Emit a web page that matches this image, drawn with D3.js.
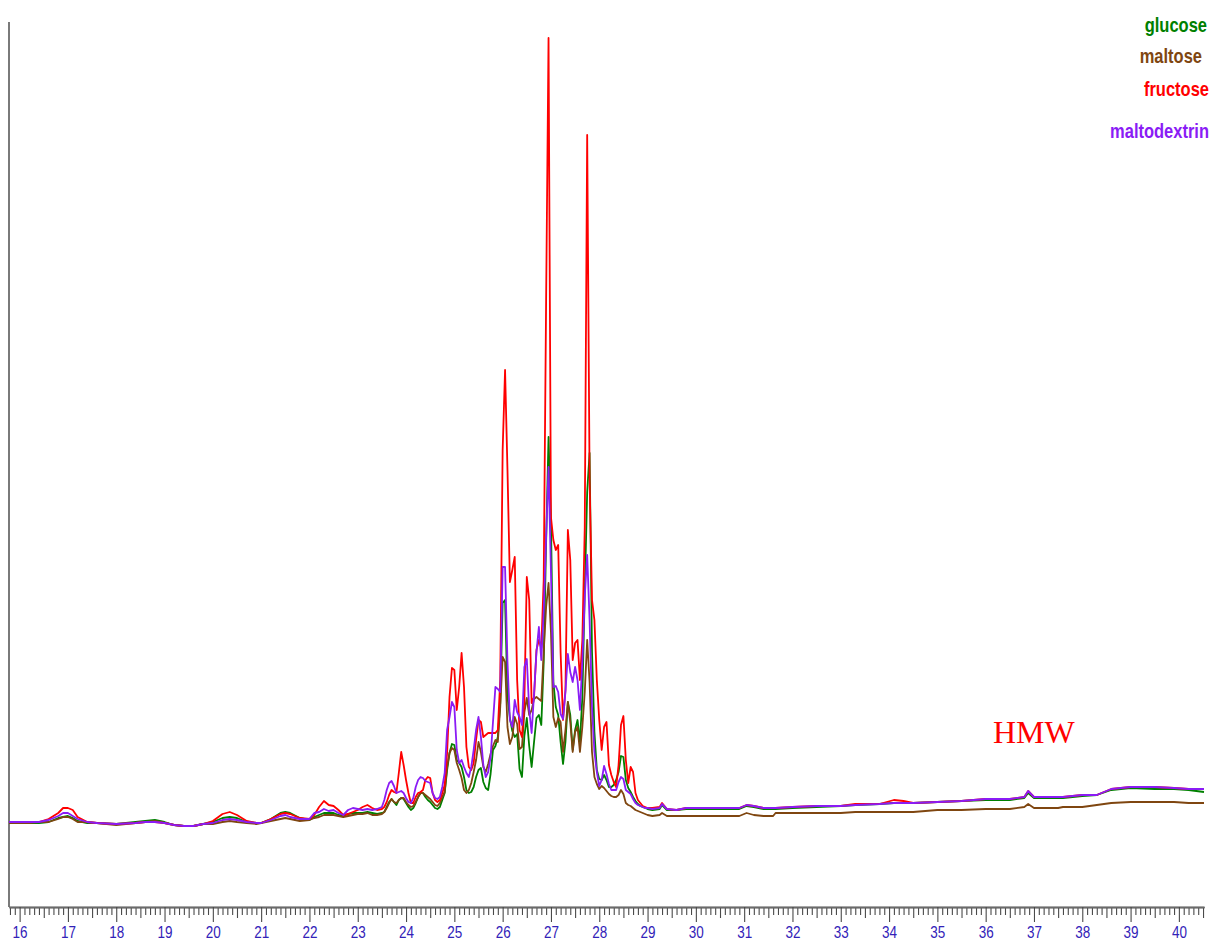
<!DOCTYPE html>
<html>
<head>
<meta charset="utf-8">
<script src="https://cdn.jsdelivr.net/npm/d3@7"></script>
<style>
html, body { margin: 0; padding: 0; background: #ffffff; }
svg { display: block; }
</style>
</head>
<body>
<svg id="chart" width="1212" height="943"></svg>
<script>
// Retention time (min)
const times = [15.78,16.0,16.2,16.4,16.6,16.8,16.9,17.0,17.1,17.2,17.4,17.6,18.0,18.4,18.6,18.8,19.0,19.2,19.4,19.6,19.8,20.0,20.2,20.35,20.5,20.7,20.9,21.0,21.2,21.4,21.5,21.6,21.8,22.0,22.1,22.2,22.3,22.4,22.5,22.6,22.7,22.8,22.9,23.0,23.1,23.2,23.3,23.4,23.5,
23.55,23.6,23.65,23.7,23.75,23.8,23.85,23.9,23.95,24.0,
24.05,24.1,24.15,24.2,24.25,24.3,24.35,24.4,24.45,24.5,
24.55,24.6,24.65,24.7,24.75,24.8,24.85,24.9,24.95,25.0,
25.05,25.1,25.15,25.2,25.25,25.3,25.35,25.4,25.45,25.5,
25.55,25.6,25.65,25.7,25.75,25.8,25.85,25.9,25.95,26.0,
26.05,26.1,26.15,26.2,26.25,26.3,26.35,26.4,26.45,26.5,
26.55,26.6,26.65,26.7,26.75,26.8,26.85,26.9,26.95,27.0,
27.05,27.1,27.15,27.2,27.25,27.3,27.35,27.4,27.45,27.5,
27.55,27.6,27.65,27.7,27.75,27.8,27.85,27.9,27.95,28.0,
28.05,28.1,28.15,28.2,28.25,28.3,28.35,28.4,28.45,28.5,
28.55,28.6,28.65,28.7,28.75,28.8,28.85,28.9,28.95,29.0,
29.1,29.25,29.3,29.4,29.6,29.8,30.5,30.9,31.05,31.2,31.4,31.6,31.65,32.0,32.5,33.0,33.3,33.8,34.1,34.3,34.5,35.0,35.5,36.0,36.5,36.8,36.88,37.0,37.5,37.6,38.0,38.3,38.6,39.0,39.5,39.9,40.2,40.52];

// Detector signal for each sample
const glucose = [-1,-1,-1,-1,0,4,5,6,4,1,-1,-1,-2,0,1,2,0,-3,-4,-4,-2,0,4,5,4,0,-1,-1,3,9,10,9,4,2,5,7,9,9,9,7,6,8,9,9,9,10,9,8,9,
10,15,20,23,20,17,22,24,23,19,
15,12,14,19,25,29,29,25,22,20,
17,14,13,15,22,29,52,69,78,77,
62,59,55,45,32,29,30,35,45,52,
54,40,34,32,48,72,76,85,119,219,
222,125,104,91,85,88,53,45,86,104,
76,55,80,104,107,97,160,280,385,300,
140,115,107,80,58,80,120,107,72,92,
102,80,125,230,330,369,170,90,52,43,
42,47,42,35,35,37,42,50,66,65,
42,34,30,25,21,18,16,15,14,13,
12,13,17,12,12,13,13,13,16,15,13,13,13,14,15,16,17,18,19,19,19,20,21,22,22,24,29,24,24,24,26,27,32,34,33,33,32,30];

const maltose = [-1,-1,-1,0,0,3,5,5,3,0,0,-1,-3,-1,0,1,-1,-3,-4,-4,-2,-2,0,1,0,-1,-2,-1,1,3,4,3,1,2,4,5,7,7,7,6,5,6,7,8,8,9,7,7,8,
10,14,19,23,20,19,22,24,24,20,
17,15,16,20,25,29,29,27,25,23,
20,17,16,19,25,30,55,69,74,72,
59,52,44,32,29,32,39,50,62,80,
70,55,50,58,68,76,82,80,115,165,
160,95,78,85,105,98,73,75,110,124,
107,112,123,125,123,121,170,215,239,190,
105,95,104,100,70,92,120,100,70,90,
95,70,95,130,182,140,70,45,38,33,
36,34,31,28,26,25,25,27,32,28,
19,17,16,14,12,11,10,9,8,7,
6,7,9,6,6,6,6,6,9,7,6,6,9,9,9,9,10,10,10,10,10,12,12,13,13,15,18,14,14,15,15,17,19,20,20,20,19,19];

const fructose = [0,0,0,0,3,9,14,14,12,5,0,-1,-2,-1,0,0,-1,-3,-4,-4,-2,1,8,10,7,1,-1,-1,3,8,9,8,4,3,7,15,21,17,16,12,7,8,10,12,15,17,14,12,13,
15,20,27,32,30,29,49,70,57,42,
29,19,19,25,29,30,32,42,45,44,
29,22,20,22,29,37,69,125,154,152,
112,135,169,135,75,55,52,59,82,102,
100,85,87,89,89,89,89,92,142,372,
452,352,240,252,265,142,92,85,122,245,
222,119,125,172,182,174,242,522,784,305,
282,272,277,169,102,132,292,262,162,179,
182,142,182,295,687,342,222,202,142,102,
72,95,100,57,47,40,35,57,97,106,
62,39,55,50,29,22,19,16,15,14,
14,15,19,13,12,14,14,14,17,16,14,14,14,15,16,16,18,18,22,21,19,20,21,23,23,25,31,25,25,25,27,27,33,35,35,34,33,33];

const maltodextrin = [0,0,0,0,2,6,9,9,6,3,0,-1,-2,-1,0,0,-1,-3,-4,-4,-2,-1,2,3,2,0,-1,-1,2,6,7,5,3,3,9,10,13,11,12,9,7,12,14,13,12,13,12,13,15,
22,32,39,41,36,29,30,31,29,24,
20,19,24,35,42,45,44,41,40,39,
29,24,23,25,35,49,92,105,120,115,
72,59,62,55,49,45,55,72,92,105,
85,57,45,50,65,100,135,133,130,255,
255,160,102,95,122,110,105,97,155,163,
112,89,128,170,195,162,210,285,355,250,
135,136,130,108,103,130,168,150,140,155,
142,112,160,225,267,202,115,70,50,36,
42,56,48,38,32,32,32,40,45,43,
32,30,28,23,19,17,16,15,14,14,
13,14,18,13,12,14,14,14,17,16,14,14,14,15,16,16,17,18,19,19,19,20,21,23,23,25,31,25,25,25,27,27,33,35,35,34,33,33];

const seriesNames = ["glucose", "maltose", "fructose", "maltodextrin"];
const seriesColors = ["#008000", "#7f4610", "#ff0000", "#8a1cf5"];
const tickLabels = [16,17,18,19,20,21,22,23,24,25,26,27,28,29,30,31,32,33,34,35,36,37,38,39,40];
const annotationText = "HMW";
const annotationPos = [36.15, 79];

const seriesData = [glucose, maltose, fructose, maltodextrin];

const svg = d3.select("#chart");
const x = d3.scaleLinear().domain([15.78, 40.52]).range([9, 1204]);
const y = d3.scaleLinear().domain([-85, 807]).range([907, 15]);

// vertical axis line
svg.append("line")
  .attr("x1", x(15.78)).attr("x2", x(15.78))
  .attr("y1", y(800)).attr("y2", y(-85))
  .attr("stroke", "#7a7a7a").attr("stroke-width", 2);

// minor ticks (0.1 min)
const minor = d3.range(158, 406).map(i => i / 10).filter(v => Math.round(v * 10) % 5 !== 0);
const half = d3.range(158, 406).map(i => i / 10).filter(v => Math.round(v * 10) % 10 === 5);

const gMinor = svg.append("g").attr("transform", `translate(0,${y(-85)})`)
  .call(d3.axisBottom(x).tickValues(minor).tickSize(8).tickFormat("").tickSizeOuter(0));
const gHalf = svg.append("g").attr("transform", `translate(0,${y(-85)})`)
  .call(d3.axisBottom(x).tickValues(half).tickSize(11).tickFormat("").tickSizeOuter(0));
const gMajor = svg.append("g").attr("transform", `translate(0,${y(-85)})`)
  .call(d3.axisBottom(x).tickValues(tickLabels).tickSize(15).tickFormat(d3.format("d")).tickSizeOuter(0));

[gMinor, gHalf, gMajor].forEach(g => {
  g.select(".domain").attr("stroke", "#6a6a6a").attr("stroke-width", 1.5);
  g.selectAll(".tick line").attr("stroke", "#4a4a4a").attr("stroke-width", 1.1);
});
gMajor.selectAll(".tick text")
  .attr("y", 0).attr("dy", null)
  .attr("transform", "translate(0,31) scale(1,1.24)")
  .attr("fill", "#3222b8")
  .style("font-family", "'Liberation Sans', Arial, sans-serif")
  .style("font-size", "13.5px");

// series lines
const line = d3.line()
  .x((d, i) => x(times[i]))
  .y(d => y(d));

seriesData.forEach((vals, k) => {
  svg.append("path")
    .datum(vals)
    .attr("fill", "none")
    .attr("stroke", seriesColors[k])
    .attr("stroke-width", 1.8)
    .attr("stroke-linejoin", "round")
    .attr("d", line);
});

// legend
const legendPos = [[1207, 31.5], [1202, 63], [1209, 96], [1209, 138]];
seriesNames.forEach((name, k) => {
  svg.append("text")
    .attr("transform", `translate(${legendPos[k][0]},${legendPos[k][1]}) scale(1,1.18)`)
    .attr("text-anchor", "end")
    .attr("fill", seriesColors[k])
    .style("font-family", "'Liberation Sans', Arial, sans-serif")
    .style("font-weight", "bold")
    .style("font-size", "16.5px")
    .text(name);
});

// annotation
svg.append("text")
  .attr("x", x(annotationPos[0]))
  .attr("y", y(annotationPos[1]))
  .attr("fill", "#ff0000")
  .style("font-family", "'Liberation Serif', 'Times New Roman', serif")
  .style("font-size", "32px")
  .text(annotationText);
</script>
</body>
</html>
